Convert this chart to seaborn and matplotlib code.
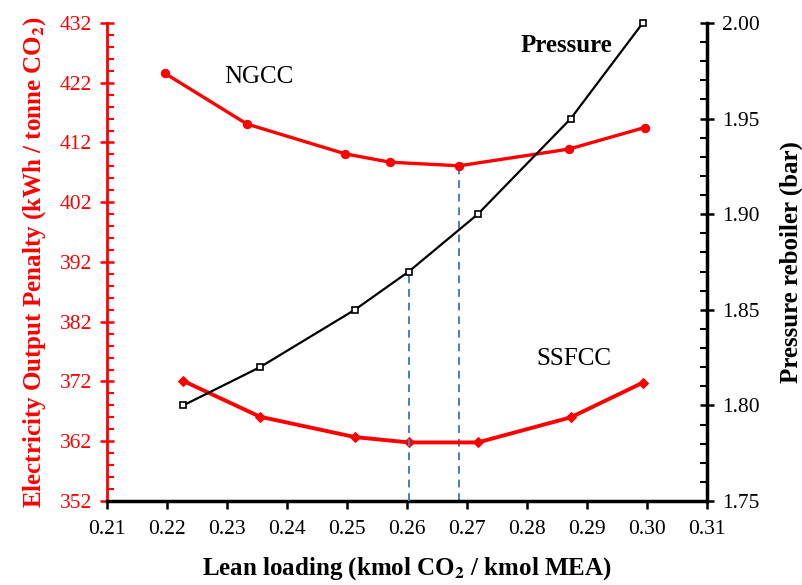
import numpy as np
import pandas as pd
import matplotlib
matplotlib.use("Agg")
import matplotlib.pyplot as plt
from matplotlib.ticker import MultipleLocator
import seaborn as sns

# data
lean_loading = [0.2227, 0.2355, 0.2513, 0.2603, 0.2718, 0.2873, 0.2993]
ngcc_x = [0.2196, 0.2333, 0.2497, 0.2572, 0.2687, 0.2870, 0.2996]
ngcc_penalty = [423.6, 415.1, 410.1, 408.7, 408.1, 410.9, 414.5]
ssfcc_penalty = [372.1, 366.1, 362.7, 361.8, 361.8, 366.0, 371.8]
pressure = [1.80, 1.82, 1.85, 1.87, 1.90, 1.95, 2.00]

# guide lines (x, top value)
guide_ssfcc = (0.2603, 1.87)   # up to the pressure curve
guide_ngcc = (0.2687, 408.1)   # up to the NGCC curve

sns.set_style("ticks")
plt.rcParams['font.family'] = ['Liberation Serif', 'DejaVu Serif']
plt.rcParams['mathtext.fontset'] = 'stix'
plt.rcParams['text.color'] = 'black'
plt.rcParams['axes.labelcolor'] = 'black'
plt.rcParams['xtick.color'] = 'black'
plt.rcParams['ytick.color'] = 'black'
plt.rcParams['axes.edgecolor'] = 'black'

red = '#ff0000'
blue = '#4a7ebb'

fig = plt.figure(figsize=(8.03, 5.85), dpi=100)
ax = fig.add_axes([0.1333, 0.1436, 0.7471, 0.8171])
ax2 = ax.twinx()

ngcc = pd.DataFrame({'x': ngcc_x, 'y': ngcc_penalty})
ssfcc = pd.DataFrame({'x': lean_loading, 'y': ssfcc_penalty})
pres = pd.DataFrame({'x': lean_loading, 'y': pressure})

sns.lineplot(data=ngcc, x='x', y='y', ax=ax, color=red, lw=2.4, marker='o',
             markersize=6, markeredgecolor=red, sort=False)
sns.lineplot(data=ssfcc, x='x', y='y', ax=ax, color=red, lw=2.8, marker='D',
             markersize=5, markeredgecolor=red, sort=False)
sns.lineplot(data=pres, x='x', y='y', ax=ax2, color='black', lw=1.6, marker='s',
             markersize=5, markerfacecolor='white', markeredgecolor='black',
             markeredgewidth=1.2, sort=False, clip_on=False)

# dashed guides
ax2.plot([guide_ssfcc[0], guide_ssfcc[0]], [1.75, guide_ssfcc[1]], ls=(0, (4, 3)),
         color=blue, lw=1.4, zorder=1)
ax.plot([guide_ngcc[0], guide_ngcc[0]], [352, guide_ngcc[1]], ls=(0, (4, 3)),
        color=blue, lw=1.4, zorder=1)

ax.set_xlim(0.21, 0.31)
ax.set_ylim(352, 432)
ax2.set_ylim(1.75, 2.00)
ax.yaxis.set_minor_locator(MultipleLocator(2))
ax2.yaxis.set_minor_locator(MultipleLocator(0.01))
xt = np.arange(0.21, 0.3101, 0.01)
ax.set_xticks(xt)
ax.set_xticklabels([f'{v:.2f}' for v in xt])
ax.set_yticks(np.arange(352, 433, 10))
pt = np.arange(1.75, 2.001, 0.05)
ax2.set_yticks(pt)
ax2.set_yticklabels([f'{v:.2f}' for v in pt])

for a in (ax, ax2):
    a.spines['top'].set_visible(False)
ax.spines['left'].set_color(red)
ax.spines['left'].set_linewidth(2)
ax.spines['bottom'].set_linewidth(2.5)
ax2.spines['left'].set_visible(False)
ax2.spines['bottom'].set_visible(False)
ax2.spines['right'].set_linewidth(2.5)

ax.tick_params(axis='x', direction='out', length=6, width=1.8, labelsize=15.5, pad=8)
ax.tick_params(axis='y', which='major', direction='inout', length=10, width=1.8,
               colors=red, labelsize=15.5, pad=6)
ax.tick_params(axis='y', which='minor', direction='in', length=5, width=1.5, colors=red)
ax2.tick_params(axis='y', which='major', direction='inout', length=10, width=1.8,
                labelsize=15.5, pad=6)
ax2.tick_params(axis='y', which='minor', direction='in', length=5, width=1.5)

ax.set_xlabel('Lean loading (kmol CO$_\\mathbf{2}$ / kmol MEA)', fontsize=18,
              fontweight='bold', labelpad=11)
ax.set_ylabel('Electricity Output Penalty (kWh / tonne CO$_\\mathbf{2}$)', fontsize=18,
              fontweight='bold', color=red, labelpad=8)
ax2.set_ylabel('Pressure reboiler (bar)', fontsize=18, fontweight='bold', labelpad=14)

ax.text(0.2353, 423.0, 'NGCC', fontsize=18, ha='center', va='center')
ax.text(0.2878, 375.7, 'SSFCC', fontsize=18, ha='center', va='center')
ax.text(0.2865, 428.2, 'Pressure', fontsize=18, fontweight='bold', ha='center', va='center')

fig.savefig('out.png', dpi=100)
